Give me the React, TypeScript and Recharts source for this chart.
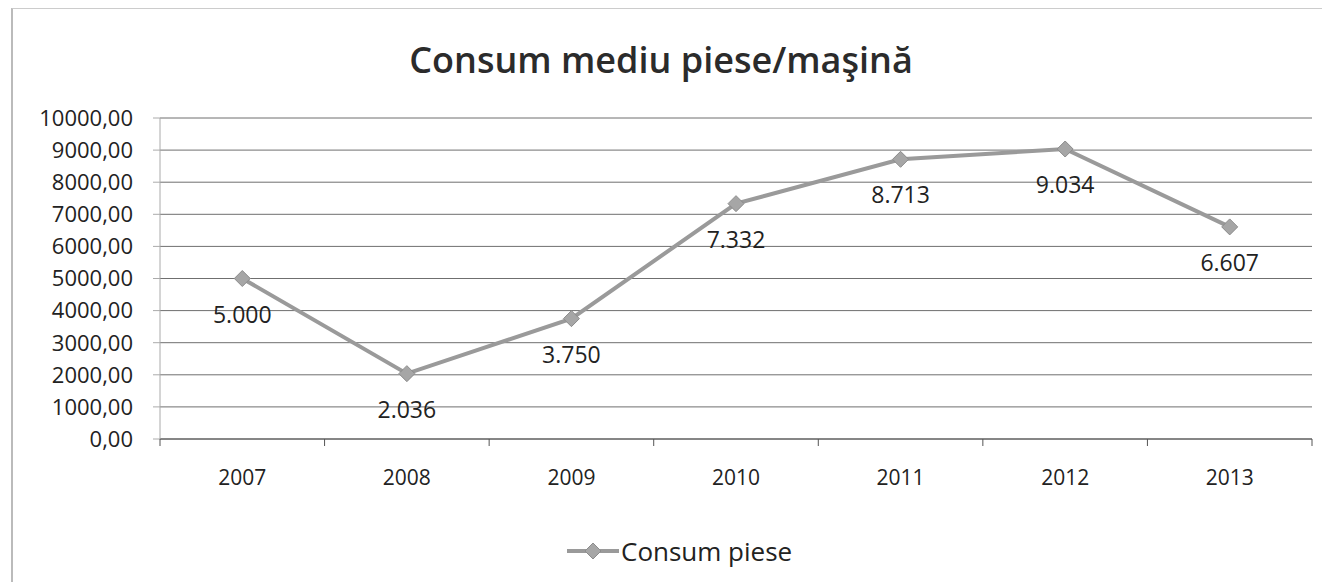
import { CartesianGrid, Line, LineChart, XAxis, YAxis } from 'recharts'

const ANI = ['2007', '2008', '2009', '2010', '2011', '2012', '2013']
const CONSUM = [5000, 2036, 3750, 7332, 8713, 9034, 6607]
const TICKURI_Y = [0, 1000, 2000, 3000, 4000, 5000, 6000, 7000, 8000, 9000, 10000]

const date = ANI.map((an, i) => ({ an, consum: CONSUM[i] }))

const LATIME = 1322
const INALTIME = 582
const STANGA = 160
const DREAPTA = 10
const JUMATATE_BANDA = (LATIME - STANGA - DREAPTA) / ANI.length / 2
const FONT = '"Open Sans", "Noto Sans", sans-serif'
const GRI_LINIE = '#9a9a9a'

// 10000 -> "10000,00"
const formatY = (v: number) => v.toFixed(2).replace('.', ',')
// 5000 -> "5.000"
const formatEticheta = (v: number) => String(Math.round(v)).replace(/\B(?=(\d{3})+(?!\d))/g, '.')

function TickAn(props: any) {
  const { x, y, payload, index } = props
  const ultim = index === ANI.length - 1
  return (
    <g>
      <line x1={x - JUMATATE_BANDA} x2={x - JUMATATE_BANDA} y1={y - 8} y2={y - 1} stroke="#555" />
      {ultim && <line x1={x + JUMATATE_BANDA} x2={x + JUMATATE_BANDA} y1={y - 8} y2={y - 1} stroke="#555" />}
      <text x={x} y={y + 38} textAnchor="middle" fontSize={21} fill="#222" fontFamily={FONT}>
        {payload.value}
      </text>
    </g>
  )
}

function Eticheta(props: any) {
  const { x, y, value } = props
  return (
    <text x={x} y={y + 44} textAnchor="middle" fontSize={23} fill="#222" fontFamily={FONT}>
      {formatEticheta(Number(value))}
    </text>
  )
}

function Romb(props: any) {
  const { cx, cy } = props
  if (cx == null || cy == null) return null
  return <path d={`M${cx},${cy - 8} L${cx + 8},${cy} L${cx},${cy + 8} L${cx - 8},${cy} Z`} fill="#a6a6a6" stroke="#8c8c8c" />
}

export default function App() {
  return (
    <div style={{ position: 'absolute', left: 0, top: 0, width: LATIME, height: INALTIME, background: '#fff', overflow: 'hidden' }}>
      <div style={{ position: 'absolute', left: 11, top: 8, width: LATIME, height: INALTIME, borderLeft: '2px solid #bbb', borderTop: '1px solid #ccc' }} />
      <div
        style={{
          position: 'absolute',
          top: 35,
          left: 0,
          width: LATIME,
          textAlign: 'center',
          fontFamily: FONT,
          fontWeight: 600,
          fontSize: 36,
          color: '#2b2b2b',
        }}
      >
        Consum mediu piese/maşină
      </div>
      <LineChart width={LATIME} height={INALTIME} data={date} margin={{ top: 118, right: DREAPTA, bottom: 113, left: 0 }}>
        <CartesianGrid vertical={false} stroke="#6f6f6f" />
        <XAxis
          dataKey="an"
          padding={{ left: JUMATATE_BANDA, right: JUMATATE_BANDA }}
          axisLine={{ stroke: '#555' }}
          tickLine={false}
          tick={<TickAn />}
          height={30}
          interval={0}
        />
        <YAxis
          domain={[0, 10000]}
          ticks={TICKURI_Y}
          width={STANGA}
          tickFormatter={formatY}
          tickSize={7}
          tickMargin={20}
          axisLine={{ stroke: '#aaa' }}
          tickLine={{ stroke: '#aaa' }}
          tick={{ fontSize: 22, fill: '#222', fontFamily: FONT }}
        />
        <Line
          dataKey="consum"
          name="Consum piese"
          stroke={GRI_LINIE}
          strokeWidth={4}
          dot={<Romb />}
          activeDot={false}
          label={<Eticheta />}
          isAnimationActive={false}
        />
      </LineChart>
      <div
        style={{
          position: 'absolute',
          top: 533,
          left: 567,
          display: 'flex',
          alignItems: 'center',
          fontFamily: FONT,
          fontSize: 26,
          color: '#222',
        }}
      >
        <svg width={54} height={20}>
          <line x1={0} x2={52} y1={10} y2={10} stroke={GRI_LINIE} strokeWidth={4} />
          <path d="M26,2 L34,10 L26,18 L18,10 Z" fill="#a6a6a6" stroke="#8c8c8c" />
        </svg>
        <span>Consum piese</span>
      </div>
    </div>
  )
}
